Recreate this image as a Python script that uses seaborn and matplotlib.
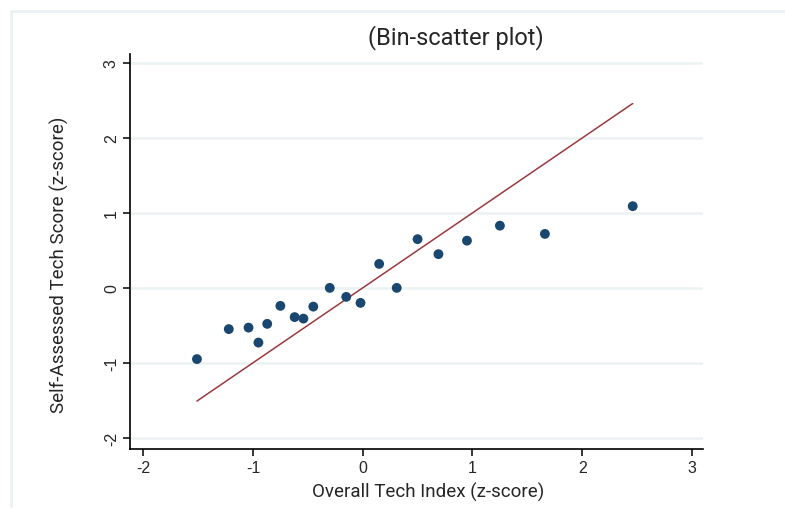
import numpy as np
import pandas as pd
import seaborn as sns
import matplotlib.pyplot as plt
from matplotlib.lines import Line2D

# bin means
tech_index = [-1.51, -1.22, -1.04, -0.95, -0.87, -0.75, -0.62, -0.54, -0.45, -0.30,
              -0.15, -0.02, 0.15, 0.31, 0.50, 0.69, 0.95, 1.25, 1.66, 2.46]
self_score = [-0.95, -0.55, -0.53, -0.73, -0.48, -0.24, -0.39, -0.41, -0.25, 0.00,
              -0.12, -0.20, 0.32, 0.00, 0.65, 0.45, 0.63, 0.83, 0.72, 1.09]
xticks = [-2, -1, 0, 1, 2, 3]
yticks = [-2, -1, 0, 1, 2, 3]

df = pd.DataFrame({"x": tech_index, "y": self_score})

sns.set_style("white")
plt.rcParams['font.family'] = ['Liberation Sans', 'DejaVu Sans']

fig = plt.figure(figsize=(7.85, 5.10), dpi=100)
ax = fig.add_axes([0.1656, 0.1176, 0.7299, 0.7745])

# 45-degree reference line over the data range
lo, hi = min(tech_index), max(tech_index)
sns.lineplot(x=[lo, hi], y=[lo, hi], color="#9b3a3e", linewidth=1.1, ax=ax)
sns.scatterplot(data=df, x="x", y="y", color="#1a476f", s=50, edgecolor="none", ax=ax, zorder=3)

ax.set_xlim(-2.12, 3.1)
ax.set_ylim(-2.15, 3.12)
ax.set_xticks(xticks)
ax.set_yticks(yticks)
ax.set_xticklabels([str(t) for t in xticks])
ax.set_yticklabels([str(t) for t in yticks], rotation=90, va="center")
ax.tick_params(axis="both", direction="out", length=5, width=1.1, color="black",
               labelsize=11.5, pad=3, bottom=True, left=True)
ax.yaxis.grid(True, color="#eaf2f3", linewidth=1.8)
ax.xaxis.grid(False)
for side in ["top", "right"]:
    ax.spines[side].set_visible(False)
for side in ["bottom", "left"]:
    ax.spines[side].set_color("black")
    ax.spines[side].set_linewidth(1.2)

ax.set_xlabel("Overall Tech Index (z-score)", fontsize=13.5, family=["Roboto", "DejaVu Sans"])
ax.set_ylabel("Self-Assessed Tech Score (z-score)", fontsize=13.5, family=["Roboto", "DejaVu Sans"])
ax.xaxis.set_label_coords(0.52, -0.082)
ax.yaxis.set_label_coords(-0.107, 0.47)
fig.text(0.581, 0.927, "(Bin-scatter plot)", ha="center", va="center", fontsize=17,
         family=["Roboto", "DejaVu Sans"])

# light outer frame
fig.add_artist(Line2D([0.0135, 1.0], [0.977, 0.977], color="#eaf2f3", linewidth=2, transform=fig.transFigure))
fig.add_artist(Line2D([0.0135, 0.0135], [0.977, 0.005], color="#eaf2f3", linewidth=2, transform=fig.transFigure))

fig.savefig("out.png", dpi=100)
